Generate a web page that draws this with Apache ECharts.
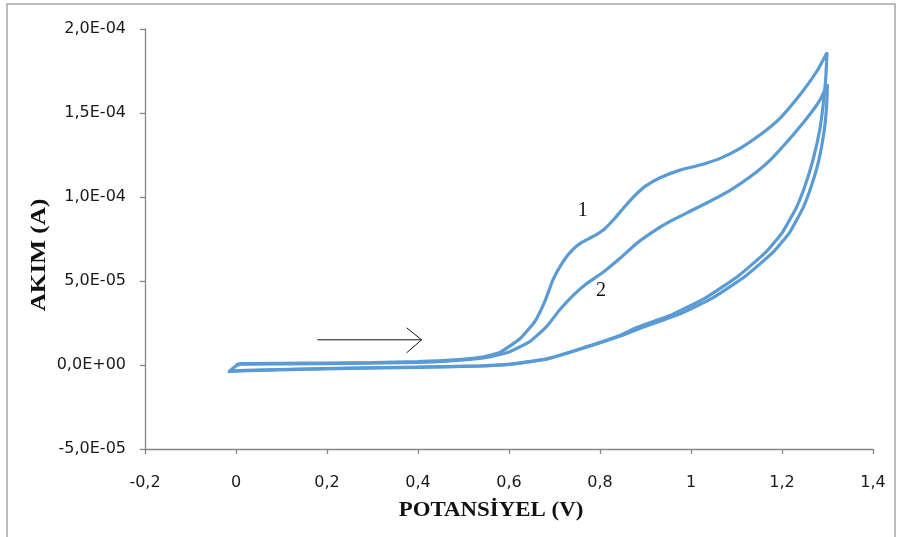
<!DOCTYPE html>
<html>
<head>
<meta charset="utf-8">
<script src="https://cdn.jsdelivr.net/npm/echarts@6/dist/echarts.min.js"></script>
<style>
html,body{margin:0;padding:0;background:#fff;}
#chart{width:900px;height:537px;}
</style>
</head>
<body>
<div id="chart"></div>
<script>
// Cycle 1 (potential in V, current in A)
const cycle1Potential = [0.000,0.010,0.100,0.200,0.300,0.400,0.480,0.536,0.580,0.624,0.657,0.679,0.697,0.720,0.741,0.760,0.785,0.810,0.833,0.855,0.877,0.900,0.932,0.976,1.020,1.064,1.108,1.152,1.196,1.240,1.277,1.299,
  1.296,1.291,1.283,1.268,1.251,1.232,1.201,1.164,1.104,1.032,0.958,0.882,0.840,0.756,0.683,0.610,0.536,0.400,0.250,0.140,0.050,-0.005,-0.015];
const cycle1Current = [0.0e-5,0.08e-5,0.10e-5,0.12e-5,0.15e-5,0.20e-5,0.30e-5,0.45e-5,0.75e-5,1.56e-5,2.6e-5,3.8e-5,5.1e-5,6.2e-5,6.9e-5,7.3e-5,7.65e-5,8.1e-5,8.75e-5,9.45e-5,10.1e-5,10.65e-5,11.15e-5,11.6e-5,11.9e-5,12.3e-5,12.9e-5,13.7e-5,14.7e-5,16.1e-5,17.5e-5,18.6e-5,
  17.0e-5,15.6e-5,14.0e-5,12.2e-5,10.7e-5,9.4e-5,7.9e-5,6.7e-5,5.3e-5,4.0e-5,3.0e-5,2.25e-5,1.72e-5,0.95e-5,0.36e-5,0.06e-5,-0.06e-5,-0.12e-5,-0.18e-5,-0.24e-5,-0.30e-5,-0.35e-5,-0.38e-5];
// Cycle 2
const cycle2Potential = [-0.015,0.000,0.010,0.200,0.400,0.500,0.550,0.600,0.646,0.683,0.712,0.741,0.771,0.806,0.844,0.881,0.926,0.954,0.998,1.042,1.086,1.130,1.174,1.218,1.255,1.284,1.300,
  1.298,1.293,1.281,1.265,1.247,1.217,1.180,1.120,1.048,0.972,0.894,0.848,0.760,0.686,0.612,0.540,0.400,0.250,0.140,0.050,-0.005,-0.018];
const cycle2Current = [-0.38e-5,-0.05e-5,0.05e-5,0.08e-5,0.15e-5,0.30e-5,0.45e-5,0.78e-5,1.4e-5,2.3e-5,3.3e-5,4.15e-5,4.85e-5,5.5e-5,6.35e-5,7.25e-5,8.1e-5,8.55e-5,9.15e-5,9.75e-5,10.4e-5,11.2e-5,12.2e-5,13.5e-5,14.7e-5,15.8e-5,16.7e-5,
  15.4e-5,14.0e-5,12.2e-5,10.7e-5,9.4e-5,7.9e-5,6.7e-5,5.3e-5,4.0e-5,3.0e-5,2.25e-5,1.76e-5,0.98e-5,0.38e-5,0.08e-5,-0.05e-5,-0.14e-5,-0.2e-5,-0.26e-5,-0.32e-5,-0.37e-5,-0.40e-5];
// Axis settings / tick values
const xMin = -0.2, xMax = 1.4, xStep = 0.2;
const yMin = -5e-5, yMax = 2e-4, yStep = 5e-5;
// Annotations (data coordinates)
const curveLabels = [{text:'1', x:0.762, y:9.16e-5},{text:'2', x:0.802, y:4.43e-5}];
const arrowFrom = [0.179, 1.5e-5], arrowTo = [0.408, 1.5e-5];

function zip(a,b){return a.map((v,i)=>[v,b[i]]);}
function fmtX(v){return String(Math.round(v*10)/10).replace('.',',');}
function fmtY(v){
  if (Math.abs(v) < 1e-12) return '0,0E+00';
  const a = Math.abs(v);
  let e = Math.floor(Math.log10(a) + 1e-9);
  let ms = (v/Math.pow(10,e)).toFixed(1);
  if (Math.abs(parseFloat(ms)) >= 10) { e += 1; ms = (v/Math.pow(10,e)).toFixed(1); }
  return ms.replace('.',',') + 'E' + (e<0?'-':'+') + String(Math.abs(e)).padStart(2,'0');
}

const chart = echarts.init(document.getElementById('chart'), null, {renderer:'canvas'});
const axisCommon = {
  axisLine:{show:true,onZero:false,lineStyle:{color:'#868686',width:1.3}},
  axisTick:{show:true,inside:false,length:5,lineStyle:{color:'#868686',width:1.3}},
  splitLine:{show:false}
};
const lineStyle = {color:'#5B9BD5', width:3.2};
const labelFont = {color:'#1a1a1a',fontFamily:'"DejaVu Sans", sans-serif',fontSize:16};
chart.setOption({
  animation:false,
  backgroundColor:'#ffffff',
  grid:{left:145,right:27,top:29,bottom:88},
  xAxis:Object.assign({type:'value',min:xMin,max:xMax,interval:xStep,
    axisLabel:Object.assign({formatter:fmtX,margin:26},labelFont)},axisCommon),
  yAxis:Object.assign({type:'value',min:yMin,max:yMax,interval:yStep,
    axisLabel:Object.assign({formatter:fmtY,margin:19},labelFont)},axisCommon),
  series:[
    {name:'1',type:'line',data:zip(cycle1Potential,cycle1Current),showSymbol:false,smooth:0.15,lineStyle:lineStyle,itemStyle:{color:'#5B9BD5'}},
    {name:'2',type:'line',data:zip(cycle2Potential,cycle2Current),showSymbol:false,smooth:0.15,lineStyle:lineStyle,itemStyle:{color:'#5B9BD5'}}
  ]
});

const p0 = chart.convertToPixel({gridIndex:0}, arrowFrom);
const p1 = chart.convertToPixel({gridIndex:0}, arrowTo);
const graphics = [
  {type:'rect',shape:{x:7,y:4,width:888,height:545},style:{fill:null,stroke:'#a6a6a6',lineWidth:1.5},silent:true,z:-1},
  {type:'text',x:40,y:255,rotation:Math.PI/2,scaleX:1.2,style:{text:'AKIM (A)',font:'bold 21px "Liberation Serif"',fill:'#111',textAlign:'center',textVerticalAlign:'middle'}},
  {type:'text',x:491,y:511,scaleX:1.09,style:{text:'POTANSİYEL (V)',font:'bold 21px "Liberation Serif"',fill:'#111',textAlign:'center',textVerticalAlign:'middle'}},
  {type:'line',shape:{x1:p0[0],y1:p0[1],x2:p1[0],y2:p1[1]},style:{stroke:'#111',lineWidth:1}},
  {type:'polyline',shape:{points:[[p1[0]-15,p1[1]-12],[p1[0],p1[1]],[p1[0]-15,p1[1]+13]]},style:{stroke:'#111',lineWidth:1,fill:null}}
];
curveLabels.forEach(l=>{
  const p = chart.convertToPixel({gridIndex:0},[l.x,l.y]);
  graphics.push({type:'text',x:p[0],y:p[1],style:{text:l.text,font:'20px "Liberation Serif"',fill:'#111',textAlign:'center',textVerticalAlign:'middle'}});
});
chart.setOption({graphic:graphics});
</script>
</body>
</html>
